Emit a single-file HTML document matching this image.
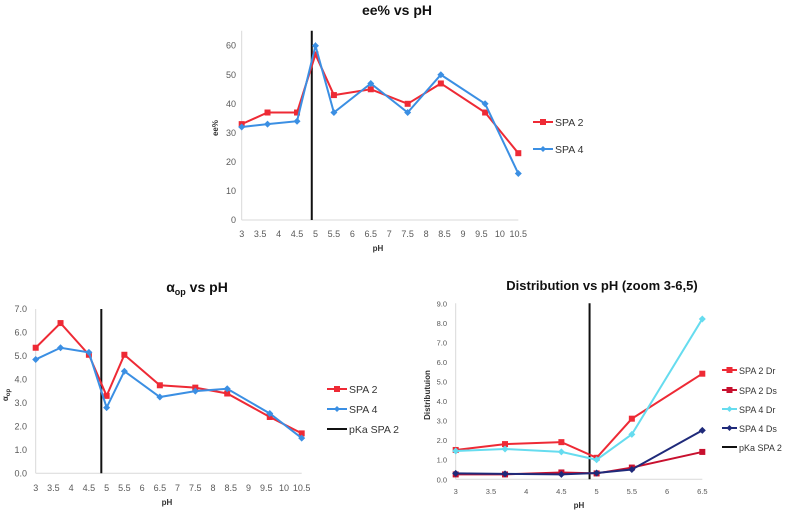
<!DOCTYPE html>
<html><head><meta charset="utf-8">
<style>
body{margin:0;background:#fff;font-family:"Liberation Sans",sans-serif;}
svg text{font-family:"Liberation Sans",sans-serif;}
</style></head>
<body>
<svg id="s" width="789" height="513" viewBox="0 0 789 513" xmlns="http://www.w3.org/2000/svg"></svg>
<script>
// ---- Chart 1: ee% vs pH ----
const eePH = [3,3.7,4.5,5,5.5,6.5,7.5,8.4,9.6,10.5];
const eeSPA2 = [33,37,37,57,43,45,40,47,37,23];
const eeSPA4 = [32,33,34,60,37,47,37,50,40,16];
const eeXTicks = ["3","3.5","4","4.5","5","5.5","6","6.5","7","7.5","8","8.5","9","9.5","10","10.5"];
const eeYTicks = [0,10,20,30,40,50,60];
const eePKa = 4.9;
// ---- Chart 2: alpha_op vs pH ----
const aPH = [3,3.7,4.5,5,5.5,6.5,7.5,8.4,9.6,10.5];
const aSPA2 = [5.35,6.4,5.05,3.3,5.05,3.75,3.65,3.4,2.4,1.7];
const aSPA4 = [4.85,5.35,5.15,2.8,4.35,3.25,3.5,3.6,2.55,1.5];
const aXTicks = ["3","3.5","4","4.5","5","5.5","6","6.5","7","7.5","8","8.5","9","9.5","10","10.5"];
const aYTicks = [0,1,2,3,4,5,6,7];
const aPKa = 4.85;
// ---- Chart 3: Distribution ----
const dPH = [3,3.7,4.5,5,5.5,6.5];
const dSPA2Dr = [1.5,1.8,1.9,1.1,3.1,5.4];
const dSPA2Ds = [0.25,0.25,0.35,0.3,0.6,1.4];
const dSPA4Dr = [1.45,1.55,1.4,1.0,2.3,8.2];
const dSPA4Ds = [0.3,0.28,0.25,0.32,0.5,2.5];
const dXTicks = ["3","3.5","4","4.5","5","5.5","6","6.5"];
const dYTicks = [0,1,2,3,4,5,6,7,8,9];
const dPKa = 4.9;

const NS="http://www.w3.org/2000/svg";
const svg=document.getElementById('s');
function mk(tag,attrs,parent,txt){const e=document.createElementNS(NS,tag);for(const k in attrs)e.setAttribute(k,attrs[k]);if(txt!==undefined)e.textContent=txt;(parent||svg).appendChild(e);return e;}

function chart(cfg){
  const g=mk('g',{});
  
  
  const X=v=>cfg.x0+(v-cfg.xmin)/(cfg.xmax-cfg.xmin)*(cfg.x1-cfg.x0);
  const Y=v=>cfg.y0-(v-cfg.ymin)/(cfg.ymax-cfg.ymin)*(cfg.y0-cfg.y1);
  const ax=mk('line',{x1:cfg.x0,y1:cfg.y0,x2:cfg.x1,y2:cfg.y0,stroke:'#d9d9d9','stroke-width':1},g);
  
  const ay=mk('line',{x1:cfg.x0,y1:cfg.y0,x2:cfg.x0,y2:cfg.ytop,stroke:'#d9d9d9','stroke-width':1},g);
  
  cfg.yt.forEach(v=>{const t=mk('text',{x:cfg.ylx,y:Y(v)+3,'text-anchor':'end','font-size':cfg.tfs,fill:'#595959'},g,cfg.yfmt(v));
    });
  cfg.xt.forEach(s=>{const t=mk('text',{x:X(parseFloat(s)),y:cfg.xly,'text-anchor':'middle','font-size':cfg.tfs,fill:'#595959'},g,s);
    });
  const pk=mk('line',{x1:X(cfg.pka),x2:X(cfg.pka),y1:cfg.y0,y2:cfg.ytop,stroke:'#111','stroke-width':2},g);
  
  cfg.series.forEach(s=>{
    const pts=cfg.xs.map((x,i)=>X(x)+','+Y(s.v[i])).join(' ');
    const pl=mk('polyline',{points:pts,fill:'none',stroke:s.c,'stroke-width':2},g);
    
    cfg.xs.forEach((x,i)=>{
      let m;
      if(s.m==='sq') m=mk('rect',{x:X(x)-3,y:Y(s.v[i])-3,width:6,height:6,fill:s.c},g);
      else m=mk('polygon',{points:`${X(x)},${Y(s.v[i])-3.5} ${X(x)+3.5},${Y(s.v[i])} ${X(x)},${Y(s.v[i])+3.5} ${X(x)-3.5},${Y(s.v[i])}`,fill:s.c},g);
      
    });
  });
  const ti=mk('text',{x:cfg.tx,y:cfg.ty,'text-anchor':'middle','font-size':cfg.tsize,'font-weight':'bold',fill:'#111'},g);
  
  ti.innerHTML=cfg.title;
  const xt=mk('text',{x:cfg.xtx,y:cfg.xty,'text-anchor':'middle','font-size':8,'font-weight':'bold',fill:'#333'},g,'pH');
  
  const yt=mk('text',{x:cfg.ytx,y:cfg.yty,'text-anchor':'middle','font-size':8,'font-weight':'bold',fill:'#333',transform:`rotate(-90 ${cfg.ytx} ${cfg.yty})`},g);
  
  yt.innerHTML=cfg.ytitle;
  cfg.legend.forEach((l,i)=>{
    const y=cfg.ly[i];
    const le=mk('g',{},g);
    
    mk('line',{x1:cfg.lx0,x2:cfg.lx1,y1:y,y2:y,stroke:l.c,'stroke-width':2},le);
    if(l.m==='sq') mk('rect',{x:(cfg.lx0+cfg.lx1)/2-3,y:y-3,width:6,height:6,fill:l.c},le);
    else if(l.m==='di') mk('polygon',{points:`${(cfg.lx0+cfg.lx1)/2},${y-3} ${(cfg.lx0+cfg.lx1)/2+3},${y} ${(cfg.lx0+cfg.lx1)/2},${y+3} ${(cfg.lx0+cfg.lx1)/2-3},${y}`,fill:l.c},le);
    mk('text',{x:cfg.lx1+2,y:y+4,'font-size':cfg.lfs,fill:'#333'},le,l.t);
  });
}
const RED='#ee2a35',BLUE='#3b8fe3',CYAN='#66dcef',DRED='#c8102e',NAVY='#1f2a7a';
chart({name:'ee-chart',xmin:3,xmax:10.5,x0:241.7,x1:518.3,ymin:0,ymax:60,y0:220,y1:45.7,ytop:30.7,
 yt:eeYTicks,yfmt:v=>String(v),xt:eeXTicks,ylx:236,xly:237,tfs:9,pka:eePKa,xs:eePH,
 series:[{id:'spa2',v:eeSPA2,c:RED,m:'sq'},{id:'spa4',v:eeSPA4,c:BLUE,m:'di'}],
 tx:397,ty:15,tsize:14,title:'ee% vs pH',xtx:378,xty:251,ytx:218,yty:128,ytitle:'ee%',
 legend:[{t:'SPA 2',c:RED,m:'sq'},{t:'SPA 4',c:BLUE,m:'di'}],ly:[122,149],lx0:533,lx1:553,lfs:10.5});
chart({name:'alpha-chart',xmin:3,xmax:10.5,x0:35.7,x1:301.7,ymin:0,ymax:7,y0:473.3,y1:309,ytop:309,
 yt:aYTicks,yfmt:v=>v.toFixed(1),xt:aXTicks,ylx:27,xly:491,tfs:9,pka:aPKa,xs:aPH,
 series:[{id:'spa2',v:aSPA2,c:RED,m:'sq'},{id:'spa4',v:aSPA4,c:BLUE,m:'di'}],
 tx:197,ty:292,tsize:14,title:'α<tspan font-size="9" dy="3">op</tspan><tspan dy="-3"> vs pH</tspan>',xtx:167,xty:505,ytx:8,yty:395,ytitle:'α<tspan font-size="6" dy="2">op</tspan>',
 legend:[{t:'SPA 2',c:RED,m:'sq'},{t:'SPA 4',c:BLUE,m:'di'},{t:'pKa SPA 2',c:'#111',m:''}],ly:[389,409,429],lx0:327,lx1:347,lfs:10.5});
chart({name:'distribution-chart',xmin:3,xmax:6.5,x0:455.7,x1:702.3,ymin:0,ymax:9,y0:479.3,y1:303.3,ytop:303.3,
 yt:dYTicks,yfmt:v=>v.toFixed(1),xt:dXTicks,ylx:447,xly:494,tfs:7.5,pka:dPKa,xs:dPH,
 series:[{id:'spa2-dr',v:dSPA2Dr,c:RED,m:'sq'},{id:'spa2-ds',v:dSPA2Ds,c:DRED,m:'sq'},{id:'spa4-dr',v:dSPA4Dr,c:CYAN,m:'di'},{id:'spa4-ds',v:dSPA4Ds,c:NAVY,m:'di'}],
 tx:602,ty:290,tsize:13,title:'Distribution vs pH (zoom 3-6,5)',xtx:579,xty:508,ytx:430,yty:395,ytitle:'Distributuion',
 legend:[{t:'SPA 2 Dr',c:RED,m:'sq'},{t:'SPA 2 Ds',c:DRED,m:'sq'},{t:'SPA 4 Dr',c:CYAN,m:'di'},{t:'SPA 4 Ds',c:NAVY,m:'di'},{t:'pKa SPA 2',c:'#111',m:''}],
 ly:[370,390,409,428,447],lx0:722,lx1:737,lfs:9});
</script>
</body></html>
